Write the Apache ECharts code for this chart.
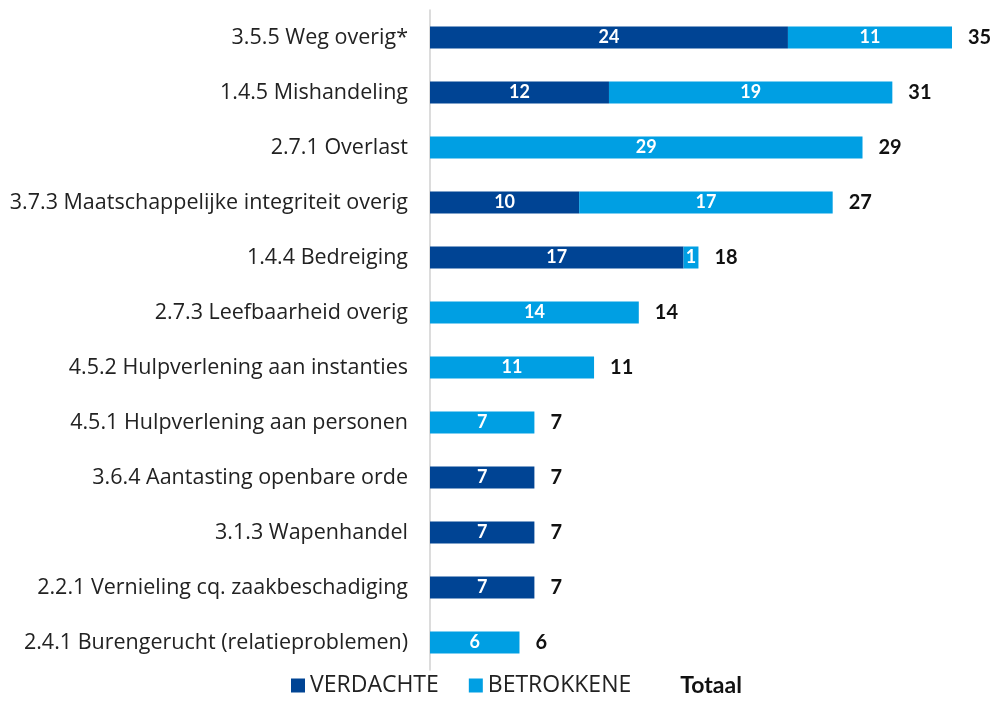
<!DOCTYPE html>
<html>
<head>
    <meta http-equiv="Content-Type" content="text/html; charset=utf-8">
    <script type="text/javascript" src="https://cdn.jsdelivr.net/npm/echarts@6/dist/echarts.min.js"></script>
    <style>
        html, body { margin: 0; padding: 0; background: #fff; }
        #dom { width: 994px; height: 702px; }
    </style>
</head>
<body>
<div id="dom"></div>
<script type="text/javascript">
    var categories = [
        '3.5.5 Weg overig*',
        '1.4.5 Mishandeling',
        '2.7.1 Overlast',
        '3.7.3 Maatschappelijke integriteit overig',
        '1.4.4 Bedreiging',
        '2.7.3 Leefbaarheid overig',
        '4.5.2 Hulpverlening aan instanties',
        '4.5.1 Hulpverlening aan personen',
        '3.6.4 Aantasting openbare orde',
        '3.1.3 Wapenhandel',
        '2.2.1 Vernieling cq. zaakbeschadiging',
        '2.4.1 Burengerucht (relatieproblemen)'
    ];
    var verdachte  = [24, 12, 0, 10, 17, 0, 0, 0, 7, 7, 7, 0];
    var betrokkene = [11, 19, 29, 17, 1, 14, 11, 7, 0, 0, 0, 6];
    var totaal = categories.map(function (c, i) { return verdachte[i] + betrokkene[i]; });

    var font = '"Open Sans", Lato, sans-serif';
    var boldFont = 'Lato, "Open Sans", sans-serif';
    var myChart = echarts.init(document.getElementById('dom'));

    var innerLabel = {
        show: true,
        position: 'inside',
        color: '#fff',
        fontWeight: 'bold',
        fontSize: 18,
        fontFamily: boldFont,
        formatter: function (p) { return p.value ? p.value : ''; }
    };

    var option = {
        animation: false,
        grid: { left: 430, right: 42, top: 10, bottom: 32, containLabel: false },
        legend: {
            bottom: 0,
            left: 286,
            itemWidth: 14,
            itemHeight: 14,
            itemGap: 30,
            textStyle: { fontSize: 23, color: '#222', fontFamily: font },
            data: [
                { name: 'VERDACHTE', icon: 'rect' },
                { name: 'BETROKKENE', icon: 'rect' },
                { name: 'Totaal', icon: 'none', textStyle: { fontWeight: 'bold', color: '#111', fontFamily: boldFont, fontSize: 23 } }
            ]
        },
        xAxis: {
            type: 'value',
            min: 0,
            max: 35,
            show: false
        },
        yAxis: {
            type: 'category',
            inverse: true,
            data: categories,
            axisTick: { show: false },
            axisLine: { show: true, lineStyle: { color: '#d0d0d0', width: 1.5 } },
            axisLabel: { fontSize: 21.5, color: '#222', fontFamily: font, margin: 22 }
        },
        series: [
            {
                name: 'VERDACHTE',
                type: 'bar',
                stack: 'a',
                barWidth: 22,
                itemStyle: { color: '#004494' },
                label: innerLabel,
                data: verdachte
            },
            {
                name: 'BETROKKENE',
                type: 'bar',
                stack: 'a',
                barWidth: 22,
                itemStyle: { color: '#009FE3' },
                label: innerLabel,
                data: betrokkene
            },
            {
                name: 'Totaal',
                type: 'bar',
                stack: 'a',
                barWidth: 22,
                itemStyle: { color: 'rgba(0,0,0,0)' },
                label: {
                    show: true,
                    position: 'right',
                    distance: 16,
                    color: '#111',
                    fontWeight: 'bold',
                    fontSize: 20,
                    fontFamily: boldFont,
                    formatter: function (p) { return totaal[p.dataIndex]; }
                },
                data: totaal.map(function () { return 0; })
            }
        ]
    };
    myChart.setOption(option, true);
</script>
</body>
</html>
